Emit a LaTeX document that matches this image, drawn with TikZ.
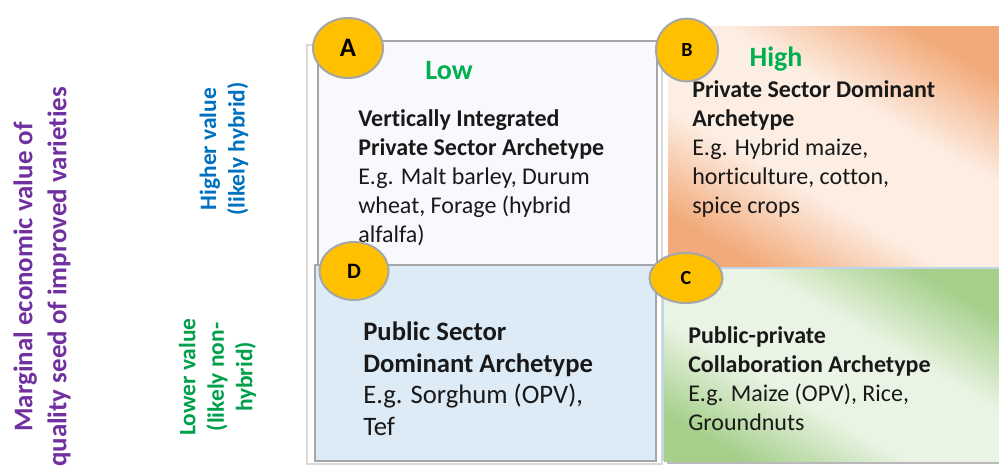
\documentclass[tikz,border=0pt]{standalone}
\usepackage{fontspec}
\setmainfont{Carlito}[Ligatures=NoCommon]
\usetikzlibrary{shapes.geometric}

\definecolor{axispurple}{RGB}{112,48,160}
\definecolor{hiblue}{RGB}{0,112,192}
\definecolor{logreen}{RGB}{0,160,75}
\definecolor{tagreen}{RGB}{0,176,80}
\definecolor{badgegold}{RGB}{255,192,0}
\definecolor{rimgray}{RGB}{166,166,166}
\definecolor{rimblue}{RGB}{190,214,234}
\definecolor{framegray}{RGB}{217,217,217}
\definecolor{paleA}{RGB}{247,249,253}
\definecolor{paleD}{RGB}{221,235,247}
\definecolor{peachdark}{RGB}{242,170,122}
\definecolor{peachlight}{RGB}{253,238,228}
\definecolor{sagedark}{RGB}{165,207,138}
\definecolor{sagelight}{RGB}{234,244,228}

% soft diagonal bands for the two coloured cells
\pgfdeclareverticalshading{peachband}{100bp}{color(0bp)=(peachdark); color(24bp)=(peachdark);
  color(41bp)=(peachlight); color(59bp)=(peachlight); color(76bp)=(peachdark); color(100bp)=(peachdark)}
\pgfdeclareverticalshading{sageband}{100bp}{color(0bp)=(sagedark); color(24bp)=(sagedark);
  color(41bp)=(sagelight); color(59bp)=(sagelight); color(76bp)=(sagedark); color(100bp)=(sagedark)}

\tikzset{
  badge/.style={ellipse, fill=badgegold, draw=rimgray, line width=1.5pt, inner sep=0pt},
  cellbody/.style={anchor=north west, align=left, inner sep=0pt, text=black!90,
    font=\fontsize{18}{21.75}\selectfont},
  sidelabel/.style={rotate=90, align=center, inner sep=0pt,
    font=\bfseries\fontsize{17.6}{21.4}\selectfont},
  tagword/.style={anchor=base, inner sep=0pt, text=tagreen,
    font=\bfseries\fontsize{21}{21}\selectfont}
}

\begin{document}
\begin{tikzpicture}[x=0.75pt,y=-0.75pt]
\useasboundingbox (0,0) rectangle (999,466);

% axis labels on the left
\node[rotate=90, align=center, inner sep=0pt, text=axispurple,
  font=\bfseries\fontsize{20.2}{25.5}\selectfont] (axis) at (42,277)
  {Marginal economic value of\\quality seed of improved varieties};
\node[sidelabel, text=hiblue] (hival) at (224,149) {Higher value\\(likely hybrid)};
\node[sidelabel, text=logreen] (loval) at (217.5,377) {Lower value\\(likely non-\\hybrid)};

% frame and the four cells
\draw[framegray, line width=1.1pt] (307,45) rectangle (662,464);
\draw[rimgray, fill=paleA, line width=1.5pt] (318,41) rectangle (657,268);
\fill[gray!55] (671,30) rectangle (1002,270);
\shade[shading=peachband, shading angle=-30] (668,27) rectangle (1000,267);
\draw[rimgray, fill=paleD, line width=1.8pt] (315,265) rectangle (656,461);
\fill[gray!55] (667,273) rectangle (1002,464);
\shade[shading=sageband, shading angle=-30] (664,270) rectangle (1000,461);
\draw[rimblue, line width=1.2pt] (1000,268) -- (663,268) -- (663,461);

% cell texts
\node[tagword] (lowtag) at (449,80) {Low};
\node[tagword] (hightag) at (776,67) {High};

\node[cellbody] (cellA) at (358,109)
  {\textbf{Vertically Integrated}\\\textbf{Private Sector Archetype}\\E.g. Malt barley, Durum\\wheat, Forage (hybrid\\alfalfa)};
\node[cellbody] (cellB) at (692,80)
  {\textbf{Private Sector Dominant}\\\textbf{Archetype}\\E.g. Hybrid maize,\\horticulture, cotton,\\spice crops};
\node[cellbody] (cellC) at (688,326)
  {\textbf{Public-private}\\\textbf{Collaboration Archetype}\\E.g. Maize (OPV), Rice,\\Groundnuts};
\node[cellbody, font=\fontsize{20}{23.6}\selectfont] (cellD) at (363,322)
  {\textbf{Public Sector}\\\textbf{Dominant Archetype}\\E.g. Sorghum (OPV),\\Tef};

% corner badges
\foreach \tag/\cx/\cy/\w/\h/\fs in {A/348/48/52.5/45/20, B/687/50/46.5/47/15,
    D/354/271/51.75/43.5/16.5, C/686/278/54.75/37.5/15}
  \node[badge, minimum width=\w pt, minimum height=\h pt,
    font=\bfseries\fontsize{\fs}{\fs}\selectfont] (badge\tag) at (\cx,\cy) {\tag};
\end{tikzpicture}
\end{document}
